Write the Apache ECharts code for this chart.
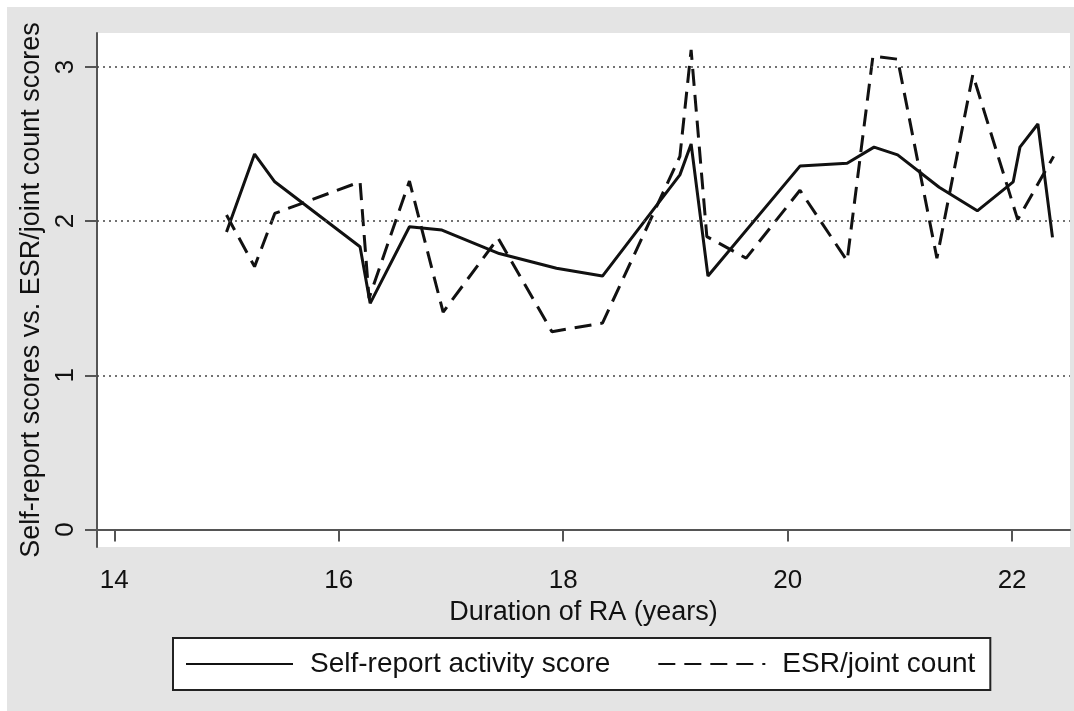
<!DOCTYPE html>
<html>
<head>
<meta charset="utf-8">
<script src="https://cdn.jsdelivr.net/npm/echarts@6/dist/echarts.min.js"></script>
<style>
html,body{margin:0;padding:0;background:#ffffff;}
#chart{width:1074px;height:711px;}
</style>
</head>
<body>
<div id="chart"></div>
<script>
// ---- data ----
const selfDuration = [15.00, 15.25, 15.43, 16.19, 16.28, 16.63, 16.92, 17.43, 17.94, 18.35, 19.04, 19.14, 19.29, 20.11, 20.53, 20.77, 20.98, 21.35, 21.69, 22.01, 22.07, 22.23, 22.36];
const selfScore    = [1.93, 2.435, 2.255, 1.834, 1.467, 1.964, 1.942, 1.79, 1.695, 1.644, 2.30, 2.50, 1.644, 2.357, 2.375, 2.48, 2.43, 2.22, 2.067, 2.255, 2.48, 2.63, 1.895];
const esrDuration  = [15.00, 15.25, 15.43, 16.19, 16.27, 16.63, 16.93, 17.42, 17.90, 18.35, 19.04, 19.14, 19.28, 19.63, 20.11, 20.53, 20.76, 20.98, 21.33, 21.65, 22.05, 22.37];
const esrScore     = [2.04, 1.705, 2.05, 2.255, 1.50, 2.26, 1.41, 1.89, 1.283, 1.339, 2.42, 3.11, 1.90, 1.76, 2.20, 1.743, 3.07, 3.05, 1.76, 2.95, 2.01, 2.42];
const xTicks = [14, 16, 18, 20, 22];
const yTicks = [0, 1, 2, 3];
const yGridLines = [1, 2, 3];
const seriesNames = ['Self-report activity score', 'ESR/joint count'];
const xTitle = 'Duration of RA (years)';
const yTitle = 'Self-report scores vs. ESR/joint count scores';

const zip = (xs, ys) => xs.map((x, i) => [x, ys[i]]);
const FONT = '"Liberation Sans", Arial, Helvetica, sans-serif';
const INK = '#111111';
const AXIS = '#555555';

const chart = echarts.init(document.getElementById('chart'), null, {renderer: 'canvas'});
chart.setOption({
  backgroundColor: '#ffffff',
  animation: false,
  textStyle: {fontFamily: FONT, color: INK},
  graphic: [{
    type: 'rect', left: 7, top: 7, z: -10, silent: true,
    shape: {width: 1067, height: 704},
    style: {fill: '#e4e4e4'}
  }],
  grid: {
    left: 97, top: 33, right: 4, bottom: 164,
    show: true, backgroundColor: '#ffffff', borderWidth: 0
  },
  xAxis: {
    type: 'value', min: 13.846, max: 22.516,
    name: xTitle, nameLocation: 'middle', nameGap: 44,
    nameTextStyle: {fontSize: 27, color: INK, fontFamily: FONT},
    axisLine: {show: true, lineStyle: {color: AXIS, width: 2}},
    axisTick: {show: true, length: 12, lineStyle: {color: AXIS, width: 2}, customValues: xTicks},
    axisLabel: {fontSize: 26, color: INK, margin: 21, customValues: xTicks, fontFamily: FONT},
    splitLine: {show: false}
  },
  yAxis: {
    type: 'value', min: -0.113, max: 3.22,
    name: yTitle, nameLocation: 'middle', nameGap: 46,
    nameTextStyle: {fontSize: 27, color: INK, fontFamily: FONT},
    axisLine: {show: true, lineStyle: {color: AXIS, width: 2}},
    axisTick: {show: true, length: 12, lineStyle: {color: AXIS, width: 2}, customValues: yTicks},
    axisLabel: {fontSize: 26, color: INK, margin: 18, rotate: 90, customValues: yTicks, fontFamily: FONT},
    splitLine: {show: false}
  },
  legend: {
    left: 173, top: 638,
    orient: 'horizontal',
    backgroundColor: '#ffffff',
    borderColor: '#222222', borderWidth: 2, borderRadius: 0,
    padding: [12, 15, 12, 12],
    itemWidth: 107, itemHeight: 26, itemGap: 47,
    itemStyle: {color: 'rgba(0,0,0,0)', borderColor: 'rgba(0,0,0,0)', borderWidth: 0, opacity: 0},
    textStyle: {fontSize: 28, color: INK, fontFamily: FONT, padding: [0, 0, 0, 12]},
    data: seriesNames
  },
  series: [
    {
      name: seriesNames[0], type: 'line',
      data: zip(selfDuration, selfScore),
      symbol: 'none', showSymbol: false,
      lineStyle: {color: INK, width: 3, type: 'solid'},
      itemStyle: {color: INK},
      z: 3,
      markLine: {
        silent: true, symbol: 'none', animation: false,
        label: {show: false},
        lineStyle: {color: '#444444', width: 1.6, type: [2, 4]},
        emphasis: {disabled: true},
        data: yGridLines.map(v => ({yAxis: v}))
      }
    },
    {
      name: seriesNames[1], type: 'line',
      data: zip(esrDuration, esrScore),
      symbol: 'none', showSymbol: false,
      lineStyle: {color: INK, width: 3, type: [17, 9]},
      itemStyle: {color: INK},
      z: 3
    }
  ]
});
</script>
</body>
</html>
